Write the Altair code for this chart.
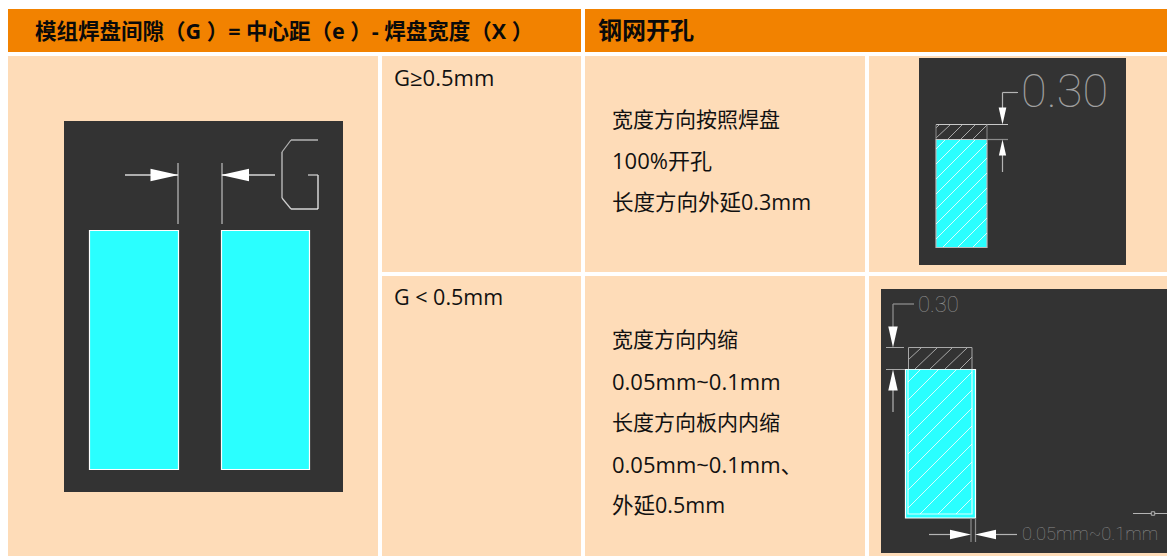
import altair as alt
import pandas as pd

ORANGE = "#f28200"
CELL = "#fedcb8"
DARK = "#333333"
CYAN = "#2affff"
W = "#ffffff"
G1 = "#b4b4b4"
G2 = "#8c8c8c"

# x, x2, y, y2, colour
fills = [
    (8, 581, 9, 52, ORANGE), (585, 1175, 9, 52, ORANGE),
    (8, 378, 56, 556, CELL), (382, 581, 56, 272, CELL), (382, 581, 276, 556, CELL),
    (585, 865, 56, 272, CELL), (869, 1175, 56, 272, CELL),
    (585, 865, 276, 556, CELL), (869, 1175, 276, 556, CELL),
    (64, 343, 121, 492, DARK), (919, 1126, 58, 265, DARK), (881, 1174, 289, 553, DARK),
]
# pads: x, x2, y, y2, fill, stroke
pads = [
    (89.5, 178.5, 230.5, 469.5, CYAN, W), (221.5, 309.5, 230.5, 469.5, CYAN, W),
    (936, 987, 139.5, 247.5, CYAN, "#b9b9b9"), (905.5, 975.5, 369.5, 518, CYAN, W),
    (908, 972, 369.5, 514, CYAN, "#d8ffff"),
]
# line segments: x, y, x2, y2, colour, width
lines = [
    (178, 163, 178, 224, G1, 1.3), (222, 163, 222, 224, G1, 1.3),
    (125, 175, 178, 175, "#d8d8d8", 1.3), (222, 175, 275, 175, "#d8d8d8", 1.3),
    (318, 140, 291, 140, G1, 1.5), (291, 140, 282, 152, G1, 1.2), (282, 152, 282, 198, "#d0d0d0", 1.2),
    (282, 198, 291, 209, "#d0d0d0", 1.2), (291, 209, 318, 209, W, 1.2), (318, 209, 318, 175, W, 1.2),
    (318, 175, 308, 175, "#d8d8d8", 1.2),
    (936, 124.5, 1008, 124.5, "#c8c8c8", 1.2), (987, 139.5, 1008, 139.5, G2, 1.2),
    (936, 124.5, 936, 139.5, G2, 1), (987, 124.5, 987, 139.5, G2, 1), (936, 139.5, 987, 139.5, "#c8c8c8", 1),
    (1002.5, 92.5, 1002.5, 108, G1, 1.2), (1002.5, 92.5, 1018, 92.5, G1, 1.2),
    (1002.5, 155, 1002.5, 172, G1, 1.2),
    (908.5, 347.5, 972, 347.5, "#a8a8a8", 1), (908.5, 347.5, 908.5, 369, "#a8a8a8", 1),
    (972, 347.5, 972, 369, "#a8a8a8", 1),
    (886, 347.5, 904, 347.5, "#a8a8a8", 1), (886, 369.5, 905, 369.5, "#a8a8a8", 1),
    (893, 304, 893, 327, G2, 1.3), (893, 304, 914, 304, G2, 1.3), (893, 390, 893, 412, G1, 1.2),
    (971, 518, 971, 542, G2, 1.2), (975.5, 518, 975.5, 542, G2, 1.2),
    (929, 534.5, 950, 534.5, G1, 1.2), (996, 534.5, 1017, 534.5, G1, 1.2),
    (1133, 513.5, 1172, 513.5, G1, 1),
]
hatch_dark = [
    (936, 128, 939, 125), (936, 138, 950, 125), (948, 139, 962, 125), (961, 139, 975, 125), (973, 139, 987, 125),
    (908, 360, 921, 348), (915, 369, 937, 348), (930, 369, 952, 348), (945, 369, 967, 348), (960, 369, 972, 357),
]
hatch_cyan = [
    (936, 149, 946, 139), (936, 164, 961, 139), (936, 179, 976, 139), (936, 194, 987, 143), (936, 209, 987, 158),
    (936, 224, 987, 173), (936, 239, 987, 188), (943, 247, 987, 203), (958, 247, 987, 218), (973, 247, 987, 233),
    (908, 382, 921, 369), (908, 400, 939, 369), (908, 418, 957, 369), (908, 436, 972, 372), (908, 454, 972, 390),
    (908, 472, 972, 408), (908, 490, 972, 426), (908, 508, 972, 444), (920, 514, 972, 462), (938, 514, 972, 480),
    (956, 514, 972, 498),
]
# arrow heads: centre x, centre y, direction, length
heads = [
    (164.5, 175, "right", 28), (235, 175, "left", 28),
    (1002.5, 116, "down", 17), (1002.5, 147.5, "up", 16),
    (893, 337, "down", 21), (893, 380, "up", 21),
    (960.5, 534.5, "right", 21), (985.5, 534.5, "left", 21),
]
dot_x, dot_y = [1153], [513.5]

# text, x, y, size
bold_labels = [
    ("模组焊盘间隙（G ）= 中心距（e ）- 焊盘宽度（X ）", 35, 32.5, 21.5),
    ("钢网开孔", 598, 32, 24),
]
labels = [
    ("G≥0.5mm", 394, 78.5, 22),
    ("G < 0.5mm", 394, 298.5, 21.5),
    ("宽度方向按照焊盘", 612, 121, 21),
    ("100%开孔", 612, 162, 22),
    ("长度方向外延0.3mm", 612, 203.5, 21.5),
    ("宽度方向内缩", 612, 341, 21),
    ("0.05mm~0.1mm", 612, 382.5, 22),
    ("长度方向板内内缩", 612, 424, 21),
    ("0.05mm~0.1mm、", 612, 465.5, 22),
    ("外延0.5mm", 612, 506.5, 21.5),
]
cad_labels = [
    ("0.30", 1021, 93, 47, "#a0a0a0"),
    ("0.30", 918, 305, 22, G2),
    ("0.05mm~0.1mm", 1022, 535, 18.3, G2),
]

X = alt.Scale(domain=[8, 1167], nice=False, zero=False)
Y = alt.Scale(domain=[556, 8], nice=False, zero=False)


def xe(f):
    return alt.X(f"{f}:Q", scale=X, axis=None)


def ye(f):
    return alt.Y(f"{f}:Q", scale=Y, axis=None)


fill_df = pd.DataFrame(fills, columns=["x", "x2", "y", "y2", "c"])
pad_df = pd.DataFrame(pads, columns=["x", "x2", "y", "y2", "c", "s"])
line_df = pd.DataFrame(lines, columns=["x", "y", "x2", "y2", "c", "w"])
hd_df = pd.DataFrame(hatch_dark, columns=["x", "y", "x2", "y2"])
hc_df = pd.DataFrame(hatch_cyan, columns=["x", "y", "x2", "y2"])
head_df = pd.DataFrame(heads, columns=["x", "y", "d", "len"])
paths = {
    "right": "M1,0L-1,-0.45L-1,0.45Z",
    "left": "M-1,0L1,-0.45L1,0.45Z",
    "down": "M0,1L-0.45,-1L0.45,-1Z",
    "up": "M0,-1L-0.45,1L0.45,1Z",
}
head_df["shape"] = head_df["d"].map(paths)
head_df["size"] = head_df["len"] ** 2
bold_df = pd.DataFrame(bold_labels, columns=["t", "x", "y", "s"])
label_df = pd.DataFrame(labels, columns=["t", "x", "y", "s"])
cad_df = pd.DataFrame(cad_labels, columns=["t", "x", "y", "s", "c"])
dot_df = pd.DataFrame({"x": dot_x, "y": dot_y})

fill_layer = alt.Chart(fill_df).mark_rect().encode(
    x=xe("x"), x2="x2:Q", y=ye("y"), y2="y2:Q", fill=alt.Fill("c:N", scale=None))
pad_layer = alt.Chart(pad_df).mark_rect(strokeWidth=1.2).encode(
    x=xe("x"), x2="x2:Q", y=ye("y"), y2="y2:Q",
    fill=alt.Fill("c:N", scale=None), stroke=alt.Stroke("s:N", scale=None))
line_layer = alt.Chart(line_df).mark_rule().encode(
    x=xe("x"), x2="x2:Q", y=ye("y"), y2="y2:Q",
    color=alt.Color("c:N", scale=None), size=alt.Size("w:Q", scale=None))
hd_layer = alt.Chart(hd_df).mark_rule(color="#a8a8a8", size=1).encode(
    x=xe("x"), x2="x2:Q", y=ye("y"), y2="y2:Q")
hc_layer = alt.Chart(hc_df).mark_rule(color="#ffffff", size=1, opacity=0.8).encode(
    x=xe("x"), x2="x2:Q", y=ye("y"), y2="y2:Q")
head_layer = alt.Chart(head_df).mark_point(filled=True, opacity=1, color="#ffffff", strokeWidth=0).encode(
    x=xe("x"), y=ye("y"), shape=alt.Shape("shape:N", scale=None), size=alt.Size("size:Q", scale=None))
dot_layer = alt.Chart(dot_df).mark_square(size=12, color="#333333", stroke="#b4b4b4", strokeWidth=1, opacity=1).encode(
    x=xe("x"), y=ye("y"))
bold_layer = alt.Chart(bold_df).mark_text(
    align="left", baseline="middle", font="Open Sans, Noto Sans CJK SC", color="#0a0a0a", fontWeight="bold"
).encode(x=xe("x"), y=ye("y"), text="t:N", size=alt.Size("s:Q", scale=None))
text_layer = alt.Chart(label_df).mark_text(
    align="left", baseline="middle", font="Open Sans, Noto Sans CJK SC", color="#111111"
).encode(x=xe("x"), y=ye("y"), text="t:N", size=alt.Size("s:Q", scale=None))
cad_layer = alt.Chart(cad_df).mark_text(
    align="left", baseline="middle", font="Roboto", fontWeight=100
).encode(
    x=xe("x"), y=ye("y"), text="t:N", size=alt.Size("s:Q", scale=None),
    color=alt.Color("c:N", scale=None))

chart = alt.layer(
    fill_layer, pad_layer, hc_layer, hd_layer, line_layer, head_layer, dot_layer,
    bold_layer, text_layer, cad_layer
).properties(
    width=1159, height=548, padding=0, background="#ffffff",
    autosize=alt.AutoSizeParams(type="none"),
).configure_view(stroke=None)

chart.save("out.html", embed_options={"renderer": "svg", "actions": False})
